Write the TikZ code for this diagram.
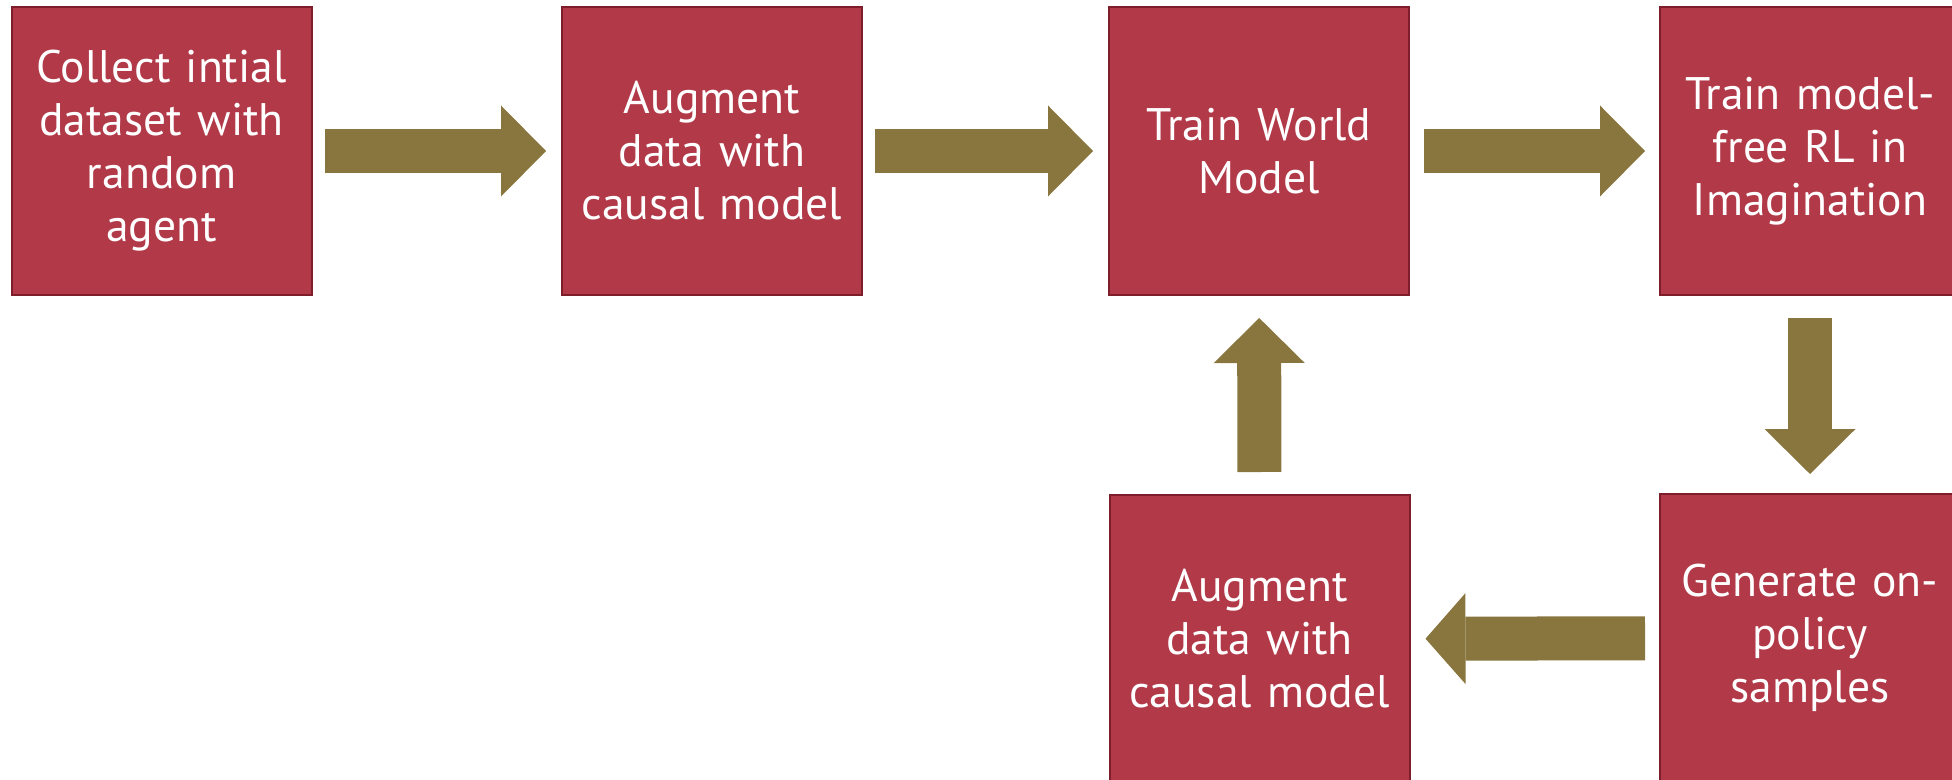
\documentclass[tikz,border=0pt]{standalone}
\usepackage{fontspec}
\setmainfont{PT Sans}
\usetikzlibrary{arrows.meta, positioning}
\definecolor{boxred}{RGB}{177,57,72}
\definecolor{boxedge}{RGB}{125,30,42}
\definecolor{arrowolive}{RGB}{137,117,62}

\tikzset{
  stagebox/.style={draw=boxedge, line width=1pt, fill=boxred, minimum width=150pt, minimum height=144pt,
    text width=145pt, align=center, text=white, inner sep=0pt, font=\fontsize{22.8}{26.5}\selectfont},
  fatarrow/.style={arrowolive, line width=22pt, -{Triangle[length=22.5pt, width=45.5pt, line width=0pt]}},
}

\begin{document}
\begin{tikzpicture}[x=0.5pt, y=-0.5pt]
  \path[use as bounding box, clip] (0,0) rectangle (1952,780);

  % Top row
  \node[stagebox] (collect) at (161.5,151) {Collect intial\\dataset with\\random\\agent};
  \node[stagebox] (augtop) at (712,151) {Augment\\data with\\causal model};
  \node[stagebox] (world) at (1259,151) {Train World\\Model};
  \node[stagebox] (rl) at (1810,151) {Train model-\\free RL in\\Imagination};

  % Bottom row
  \node[stagebox] (augbot) at (1259.5,639) {Augment\\data with\\causal model};
  \node[stagebox] (onpolicy) at (1810,638) {Generate on-\\policy\\samples};

  % Block arrows
  \draw[fatarrow, shorten <=6pt, shorten >=7.5pt] (collect) -- (augtop);
  \draw[fatarrow, shorten <=6pt, shorten >=7.5pt] (augtop) -- (world);
  \draw[fatarrow, shorten <=7pt, shorten >=7pt] (world) -- (rl);
  \draw[fatarrow, shorten <=11pt, shorten >=9.5pt] (rl) -- (onpolicy);
  \draw[fatarrow, -{Triangle[length=20pt, width=45.5pt, line width=0pt]}, shorten <=7pt, shorten >=7.5pt] (onpolicy) -- (augbot);
  \draw[fatarrow, shorten <=11pt, shorten >=11pt] (augbot) -- (world);
\end{tikzpicture}
\end{document}
